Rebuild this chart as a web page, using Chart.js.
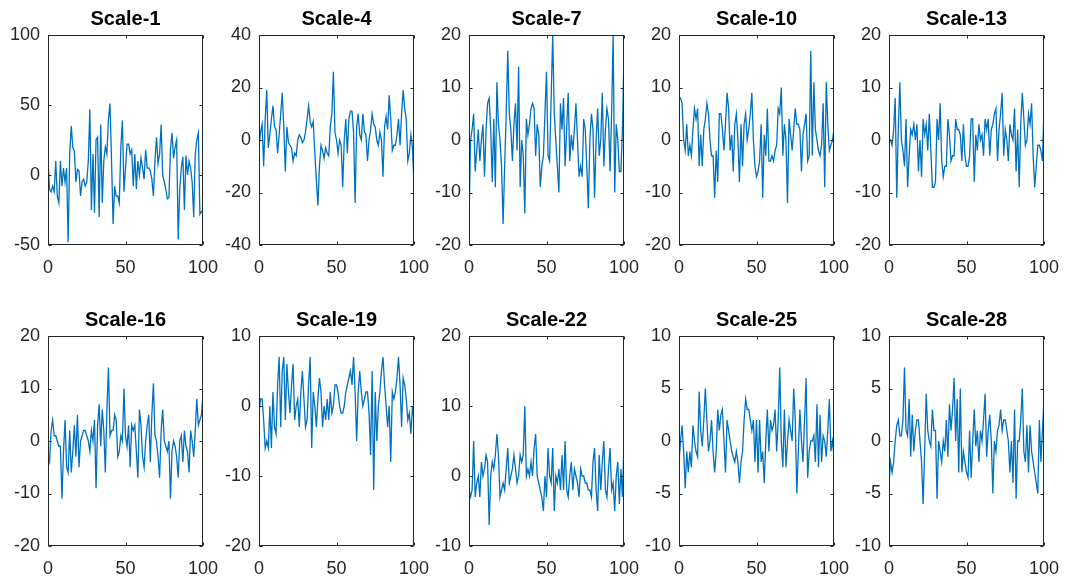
<!DOCTYPE html>
<html>
<head>
<meta charset="utf-8">
<script src="https://cdn.jsdelivr.net/npm/chart.js@4.4.1/dist/chart.umd.min.js"></script>
<style>
  body { margin: 0; background: #fff; width: 1069px; height: 581px; position: relative; overflow: hidden; }
  canvas { position: absolute; }
</style>
</head>
<body>
<script>
// titulos y rangos de cada subgrafica
var titles = ["Scale-1", "Scale-4", "Scale-7", "Scale-10", "Scale-13", "Scale-16", "Scale-19", "Scale-22", "Scale-25", "Scale-28"];
var yMin  = [-50, -40, -20, -20, -20, -20, -20, -10, -10, -10];
var yMax  = [100, 40, 20, 20, 20, 20, 10, 20, 10, 10];
var yStep = [50, 20, 10, 10, 10, 10, 10, 10, 5, 5];
var xTicks = [0, 50, 100];

// valores (muestra 0..100)
var scale1 = [12,-10,-12,-8,-12,10,-15,-20,10,-8,5,-5,5,-48,15,35,20,17,-5,4,3,-15,-5,-3,-8,-5,10,47,-25,15,-27,25,27,-30,36,-20,10,20,15,40,51,10,-35,-8,-15,-15,-20,20,39,-12,5,22,22,15,18,-8,15,-10,10,0,12,5,-3,18,5,5,3,-3,-15,10,27,8,15,36,0,-5,-10,-17,-16,18,30,12,20,25,-46,-10,5,13,-25,14,0,10,5,-5,-30,15,25,30,-28,-26,-27];
var scale4 = [-3,3,6,-10,8,19,-3,2,8,13,5,4,-5,2,10,18,5,-12,5,-1,-2,-3,-8,-5,-6,0,2,1,-1,0,3,8,13,7,5,7,-5,-15,-25,-10,-2,-4,-7,-3,-5,-6,5,10,26,3,0,-5,0,-2,-18,0,8,-5,8,11,11,3,-24,5,10,2,0,10,3,2,-8,0,4,10,6,5,0,-2,3,0,-14,5,9,4,17,8,-4,-2,-2,2,8,-2,10,19,12,8,-8,-5,2,-3,-17];
var scale7 = [-16,0,2,5,-6,-2,2,-4,0,3,-7,2,7,8,2,-8,4,-9,11,3,0,-5,-16,-5,5,17,5,2,-4,3,7,-2,14,-9,0,-3,-14,4,1,3,6,7,6,-3,3,1,-9,-5,-3,5,13,-3,-4,8,20,5,0,-5,-10,7,2,8,-5,2,9,-4,1,-2,2,7,0,-7,-5,-7,4,2,-5,-13,0,5,2,-11,0,6,-3,0,9,-5,2,6,4,-6,5,20,-10,3,0,-6,-6,2,17];
var scale10 = [8,8,7,0,-2,3,-3,-1,-3,2,6,4,6,-5,1,-5,2,4,7,5,0,-3,-3,-11,-2,-8,5,5,2,-2,3,9,6,-2,1,-6,3,5,0,-8,3,-5,3,5,0,2,5,9,0,-5,-7,-6,-4,3,-11,1,-3,6,-4,-4,-3,-4,-2,-1,6,5,10,-3,3,0,-12,4,1,-2,2,6,3,3,2,-6,1,3,5,-4,-3,17,-3,11,2,0,-2,-3,-1,7,-9,11,3,-2,-1,0,2];
var scale13 = [0,0,-1,2,8,-11,2,11,0,-2,-5,4,-9,-3,2,1,3,0,3,-6,0,-7,4,1,3,-2,5,-2,-9,-9,-8,4,0,7,-4,-7,-5,-5,4,1,-4,-3,-3,4,2,2,1,-4,3,-3,-5,-5,-3,4,4,-8,1,-2,3,0,1,-3,4,2,4,-3,2,3,5,6,-4,2,5,9,-3,2,0,-4,3,1,0,6,-6,2,-9,3,9,4,-1,0,5,3,7,-3,-9,-5,-1,-1,-2,-4,6];
var scale16 = [-3,-4,2,4,1,1,0,-1,-1,-11,-2,4,-5,-6,2,-6,-2,3,-3,5,-5,0,1,2,2,1,0,-2,2,0,4,-9,3,7,-1,6,2,-6,6,14,1,2,2,5,4,-3,-2,1,0,10,1,-1,3,-5,3,2,3,-2,-7,6,3,-3,-5,0,3,5,-4,5,11,1,0,-3,-7,2,6,0,-1,-2,0,-11,-2,0,-1,-3,-7,0,1,-4,2,-1,-2,-6,2,0,-3,2,8,3,4,5,9];
var scale19 = [-1,1,1,-2,-6,-5,-6,0,-6,2,-3,-4,3,7,-3,5,7,-2,6,2,-1,3,6,-2,0,1,-3,2,5,1,-3,-2,3,7,-6,2,0,-3,1,4,2,-3,0,-2,1,-2,2,-1,0,3,3,2,0,-1,-1,0,2,3,4,5,3,7,2,-5,2,5,2,0,1,2,2,-1,-7,5,-12,2,-5,0,2,5,7,3,0,-3,0,-8,2,1,2,4,7,3,-3,4,3,1,-2,-1,-4,0,-2];
var scale22 = [-2,-3,-2,5,-3,-1,0,-3,2,0,1,3,2,-7,0,2,1,3,6,3,-3,-2,-1,-2,1,4,-1,0,1,3,1,-1,0,3,2,3,10,0,1,0,2,0,4,6,0,-1,-2,-3,-5,0,-3,4,0,-1,4,-5,0,-1,1,-2,3,-2,5,-2,-3,0,2,-2,1,0,-1,-3,1,0,0,-1,-1,-2,-2,-3,2,4,-2,-5,3,-2,2,5,-2,-3,1,4,-2,-1,-5,0,2,-4,1,-3,5];
var scale25 = [-2,0,1.5,-1,-4.5,-1,-3,-1,-2.5,1.5,0,-1,-1.5,4.7,1,-0.5,2,5,2,-1,0,2,-1,-3,-1,3,1,2.5,3,0,-3,2,1,0,-1,-1.5,-2,-1,-2,-4,-2,-1,2,4,3,3,2,1,2,-2,2,-3,2,-2,-1,-4,0,3,-1,2,1,1.5,3,-1,2,7,0,-2.5,3,-2.5,0,2,1,0,5,2,-5,-1,3,0,-2,2,6,-3.5,-1,0,0,0.5,-2,3.5,-2.5,2.5,-2,0.5,0,-1.5,1,4,-1,0,-1.5];
var scale28 = [-4,-2,-3,-2,0,1.5,2,0.5,0.5,2,7,1,0.5,4,-1.5,2.5,-1,1,2,2,0,-2,-6,-1,4.5,1,0,-0.5,3,1,1,-5.5,0,-1,-2,0,-1,2,-1.5,3.5,1,3,6,0,4,-3,5,-3,-1,-2,-3,-3.5,1,-3.5,0,3,-0.5,1,-2,1,0,2,4.5,-1.5,1,2.5,0,-5,0,-1,1,1.5,3,1,2,2,1,0,-3,0,-4,3,-5.5,0,0,2,5,-1,-2,1.5,-3,1.5,-1,-2,-3,-4,-5,2,-2,1,4];

var series = [scale1, scale4, scale7, scale10, scale13, scale16, scale19, scale22, scale25, scale28];

// posiciones de los ejes (pixeles)
var plotLefts = [48, 259, 469, 679, 889];
var plotTops = [35, 336];
var plotW = 155, plotH = 210;
var padL = 48, padTop = 35, padBottom = 38, padR = 22;

// dibuja la caja, las marcas interiores y el titulo estilo MATLAB
var boxPlugin = {
  id: "box",
  afterDraw: function (chart) {
    var c = chart.ctx, a = chart.chartArea;
    var xs = chart.scales.x, ys = chart.scales.y;
    c.save();
    c.strokeStyle = "#262626";
    c.lineWidth = 1;
    var L = Math.round(a.left) + 0.5, R = Math.round(a.right) - 0.5;
    var T = Math.round(a.top) + 0.5, B = Math.round(a.bottom) - 0.5;
    c.strokeRect(L, T, R - L, B - T);
    c.beginPath();
    xs.ticks.forEach(function (t) {
      var px = Math.round(xs.getPixelForValue(t.value)) + 0.5;
      c.moveTo(px, B); c.lineTo(px, B - 3);
      c.moveTo(px, T); c.lineTo(px, T + 3);
    });
    ys.ticks.forEach(function (t) {
      var py = Math.round(ys.getPixelForValue(t.value)) + 0.5;
      c.moveTo(L, py); c.lineTo(L + 3, py);
      c.moveTo(R, py); c.lineTo(R - 3, py);
    });
    c.stroke();
    c.fillStyle = "#000";
    c.font = "bold 20px 'Liberation Sans', Arial, sans-serif";
    c.textAlign = "center";
    c.textBaseline = "alphabetic";
    c.fillText(chart.options.plugins.box.title, (a.left + a.right) / 2, a.top - 10);
    c.restore();
  }
};

var xs = [];
for (var i = 0; i <= 100; i++) xs.push(i);

titles.forEach(function (title, k) {
  var col = k % 5, row = Math.floor(k / 5);
  var cv = document.createElement("canvas");
  var w = padL + plotW + padR, h = padTop + plotH + padBottom;
  cv.width = w; cv.height = h;
  cv.style.left = (plotLefts[col] - padL) + "px";
  cv.style.top = (plotTops[row] - padTop) + "px";
  cv.style.width = w + "px"; cv.style.height = h + "px";
  document.body.appendChild(cv);

  var pts = xs.map(function (x, j) { return { x: x, y: series[k][j] }; });

  new Chart(cv.getContext("2d"), {
    type: "line",
    data: {
      datasets: [{
        data: pts,
        borderColor: "#0072BD",
        borderWidth: 1.3,
        pointRadius: 0,
        tension: 0,
        fill: false
      }]
    },
    options: {
      responsive: false,
      animation: false,
      layout: { padding: { top: padTop, right: padR, left: 0, bottom: 0 } },
      plugins: {
        legend: { display: false },
        tooltip: { enabled: false },
        box: { title: title }
      },
      scales: {
        x: {
          type: "linear", min: 0, max: 100,
          afterFit: function (s) { s.height = padBottom; s.paddingLeft = 0; s.paddingRight = 0; },
          afterBuildTicks: function (s) { s.ticks = xTicks.map(function (v) { return { value: v }; }); },
          grid: { display: false, drawTicks: false },
          border: { display: false },
          ticks: { padding: 12, color: "#262626", maxRotation: 0, font: { size: 18, family: "'Liberation Sans', Arial, sans-serif" } }
        },
        y: {
          min: yMin[k], max: yMax[k],
          afterFit: function (s) { s.width = padL; s.paddingTop = 0; s.paddingBottom = 0; },
          grid: { display: false, drawTicks: false },
          border: { display: false },
          ticks: { stepSize: yStep[k], padding: 8, color: "#262626", font: { size: 18, family: "'Liberation Sans', Arial, sans-serif" } }
        }
      }
    },
    plugins: [boxPlugin]
  });
});
</script>
</body>
</html>
